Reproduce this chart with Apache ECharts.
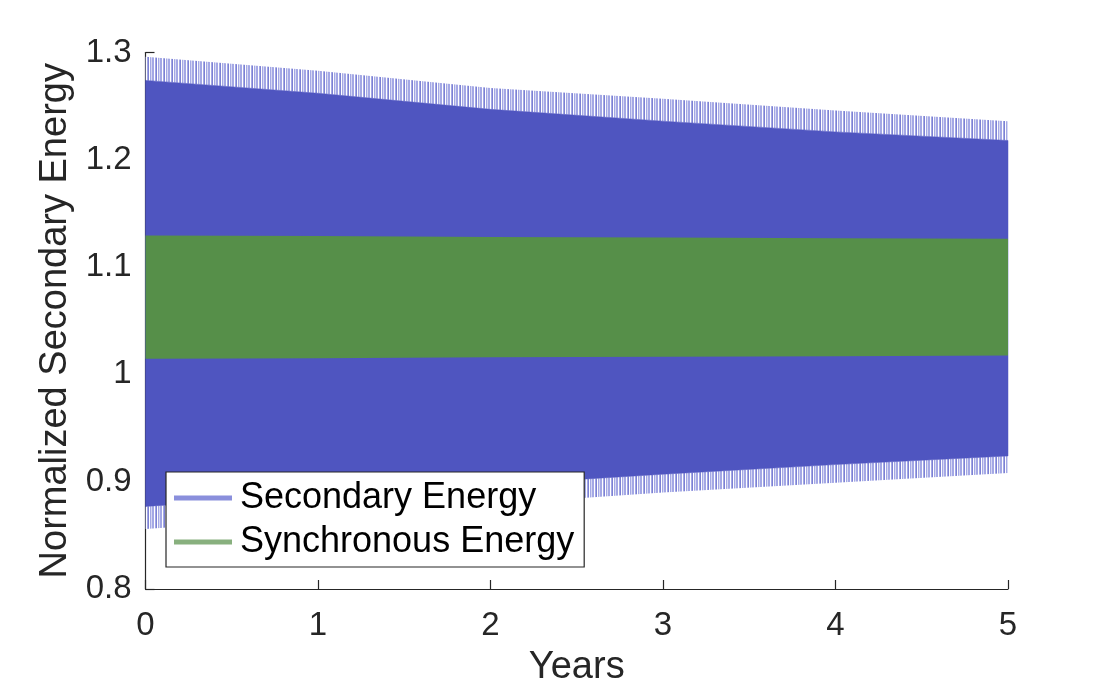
<!DOCTYPE html>
<html>
<head>
<meta charset="utf-8">
<script src="https://cdn.jsdelivr.net/npm/echarts@6/dist/echarts.min.js"></script>
<style>
html,body{margin:0;padding:0;background:#fff;}
#chart{width:1114px;height:692px;}
</style>
</head>
<body>
<div id="chart"></div>
<script>
const years = [0, 1, 2, 3, 4, 5];
// Secondary energy: outer tips of the oscillation and the solid (dense) region edges
const secPeakHigh = [1.296, 1.283, 1.267, 1.257, 1.246, 1.236];
const secFillHigh = [1.274, 1.262, 1.247, 1.236, 1.226, 1.218];
const secFillLow  = [0.877, 0.887, 0.897, 0.907, 0.916, 0.924];
const secPeakLow  = [0.856, 0.867, 0.879, 0.890, 0.899, 0.908];
// Synchronous energy band edges
const syncHigh = [1.1295, 1.129, 1.128, 1.1275, 1.127, 1.1265];
const syncLow  = [1.0145, 1.015, 1.016, 1.0165, 1.017, 1.0175];
// Axis ticks
const xTicks = [0, 1, 2, 3, 4, 5];
const yTicks = [0.8, 0.9, 1, 1.1, 1.2, 1.3];

const FONT = '"Liberation Sans", Arial, Helvetica, sans-serif';
const AX = '#262626';
const BLUE = '#4f55c0';
const BLUE_LIGHT = '#a4a8e5';
const BLUE_MID = '#7c81d3';
const GREEN = '#568f49';

function stripePattern(cols) {
  const c = document.createElement('canvas');
  c.width = cols.length; c.height = 1;
  const g = c.getContext('2d');
  cols.forEach((col, i) => { g.fillStyle = col; g.fillRect(i, 0, 1, 1); });
  return { image: c, repeat: 'repeat' };
}
const edgePattern = stripePattern([BLUE_LIGHT, BLUE_LIGHT, '#ffffff', BLUE_LIGHT, BLUE_MID, '#ffffff', BLUE_LIGHT, '#d6d8f3']);

function band(api, xs, lo, hi) {
  const pts = [];
  for (let i = 0; i < xs.length; i++) pts.push(api.coord([xs[i], hi[i]]));
  for (let i = xs.length - 1; i >= 0; i--) pts.push(api.coord([xs[i], lo[i]]));
  return pts;
}

const chart = echarts.init(document.getElementById('chart'));
chart.setOption({
  animation: false,
  backgroundColor: '#fff',
  grid: { left: 145.5, right: 106, top: 52.5, bottom: 102.5, containLabel: false },
  xAxis: {
    type: 'value', min: 0, max: 5, interval: 1,
    name: 'Years', nameLocation: 'middle', nameGap: 60,
    nameTextStyle: { fontSize: 38, color: AX, fontFamily: FONT },
    axisLine: { show: true, onZero: false, lineStyle: { color: AX, width: 1.2 } },
    axisTick: { show: true, inside: true, length: 9, lineStyle: { color: AX, width: 1.2 } },
    axisLabel: { fontSize: 33, color: AX, fontFamily: FONT, margin: 20,
      formatter: v => xTicks.includes(v) ? String(v) : '' },
    splitLine: { show: false }
  },
  yAxis: {
    type: 'value', min: 0.8, max: 1.3, interval: 0.1,
    name: 'Normalized Secondary Energy', nameLocation: 'middle', nameGap: 69,
    nameTextStyle: { fontSize: 38, color: AX, fontFamily: FONT },
    axisLine: { show: true, onZero: false, lineStyle: { color: AX, width: 1.2 } },
    axisTick: { show: true, inside: true, length: 9, lineStyle: { color: AX, width: 1.2 } },
    axisLabel: { fontSize: 33, color: AX, fontFamily: FONT, margin: 14,
      formatter: v => { const t = yTicks.find(y => Math.abs(y - v) < 1e-6); return t === undefined ? '' : String(t); } },
    splitLine: { show: false }
  },
  legend: {
    orient: 'vertical', left: 166, top: 472,
    backgroundColor: '#fff', borderColor: AX, borderWidth: 1.2,
    padding: [8, 10, 7, 8], itemWidth: 58, itemHeight: 5, itemGap: 8,
    textStyle: { fontSize: 36, color: '#000', fontFamily: FONT, lineHeight: 36, padding: [0, 0, 0, 3] },
    data: [
      { name: 'Secondary Energy', icon: 'rect', itemStyle: { color: '#8a8fdc' } },
      { name: 'Synchronous Energy', icon: 'rect', itemStyle: { color: '#88b07e' } }
    ]
  },
  series: [
    {
      name: 'Secondary Energy', type: 'custom', silent: true, z: 2,
      itemStyle: { color: '#8a8fdc' },
      data: years.map((x, i) => [x, secFillHigh[i]]),
      renderItem: (params, api) => {
        if (params.dataIndex !== 0) return null;
        return {
          type: 'group', children: [
            { type: 'polygon', shape: { points: band(api, years, secFillHigh, secPeakHigh) }, style: { fill: edgePattern } },
            { type: 'polygon', shape: { points: band(api, years, secPeakLow, secFillLow) }, style: { fill: edgePattern } },
            { type: 'polygon', shape: { points: band(api, years, secFillLow, secFillHigh) }, style: { fill: BLUE, stroke: BLUE, lineWidth: 0.5 } }
          ]
        };
      }
    },
    {
      name: 'Synchronous Energy', type: 'custom', silent: true, z: 3,
      itemStyle: { color: '#88b07e' },
      data: years.map((x, i) => [x, syncHigh[i]]),
      renderItem: (params, api) => {
        if (params.dataIndex !== 0) return null;
        return { type: 'polygon', shape: { points: band(api, years, syncLow, syncHigh) }, style: { fill: GREEN } };
      }
    }
  ]
});
</script>
</body>
</html>
